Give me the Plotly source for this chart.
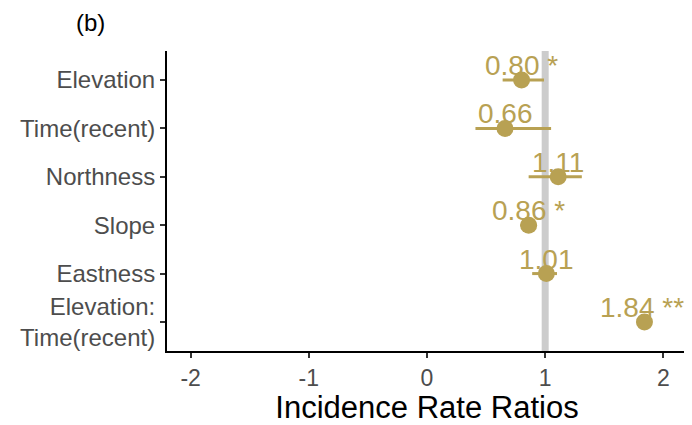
import plotly.graph_objects as go

terms = ["Elevation", "Time(recent)", "Northness", "Slope", "Eastness", "Elevation:<br>Time(recent)"]
estimates = [0.80, 0.66, 1.11, 0.86, 1.01, 1.84]
ci_low = [0.64, 0.41, 0.86, 0.79, 0.89, 1.79]
ci_high = [0.99, 1.05, 1.31, 0.93, 1.10, 1.89]
stars = ["*", "", "", "*", "", "**"]
x_ticks = [-2, -1, 0, 1, 2]

gold = "#B8A153"
font_fam = "Liberation Sans, Arial"
x_min, x_max = -2.2, 2.2

fig = go.Figure()

# reference line at 1
fig.add_shape(type="line", xref="x", yref="paper", x0=1, x1=1, y0=0, y1=1,
              line=dict(color="#CCCCCC", width=7), layer="below")

# confidence intervals as horizontal segments
for t, lo, hi in zip(terms, ci_low, ci_high):
    fig.add_trace(go.Scatter(x=[lo, hi], y=[t, t], mode="lines",
                             line=dict(color=gold, width=3),
                             showlegend=False, hoverinfo="skip"))

fig.add_trace(go.Scatter(x=estimates, y=terms, mode="markers",
                         marker=dict(color=gold, size=17),
                         showlegend=False))

for t, e, s in zip(terms, estimates, stars):
    label = f"{e:.2f}" + (f" {s}" if s else "")
    half_w = len(label) * 0.55 * 28 / 118.0 / 2
    if e + half_w > x_max:
        fig.add_annotation(x=x_max, y=t, text=label, showarrow=False,
                           xanchor="right", yanchor="bottom", yshift=-3, xshift=-1,
                           font=dict(family=font_fam, size=28, color=gold))
    else:
        fig.add_annotation(x=e, y=t, text=label, showarrow=False,
                           xanchor="center", yanchor="bottom", yshift=-3,
                           font=dict(family=font_fam, size=28, color=gold))

fig.add_annotation(xref="paper", yref="paper", x=-0.148, y=1.0, yshift=29,
                   text="(b)", showarrow=False, xanchor="center", yanchor="middle",
                   font=dict(family=font_fam, size=24, color="black"))

fig.update_xaxes(range=[x_min, x_max], tickvals=x_ticks, ticktext=[str(v) for v in x_ticks],
                 showgrid=False, zeroline=False, showline=True, linecolor="black", linewidth=2,
                 ticks="outside", ticklen=5, tickwidth=2, tickcolor="#333333",
                 tickfont=dict(family=font_fam, size=23, color="#4D4D4D"),
                 title=dict(text="Incidence Rate Ratios", standoff=8,
                            font=dict(family=font_fam, size=31, color="black")))
fig.update_yaxes(type="category", categoryorder="array", categoryarray=terms,
                 range=[5.6, -0.6],
                 showgrid=False, zeroline=False, showline=True, linecolor="black", linewidth=2,
                 ticks="outside", ticklen=5, tickwidth=2, tickcolor="#333333",
                 tickfont=dict(family=font_fam, size=24, color="#4D4D4D"))

# page body has an 8px default margin, so the figure is sized to fit the window
fig.update_layout(width=684, height=417, plot_bgcolor="white", paper_bgcolor="white",
                  margin=dict(l=159, r=5, t=43, b=68))

fig.write_html("out.html")
